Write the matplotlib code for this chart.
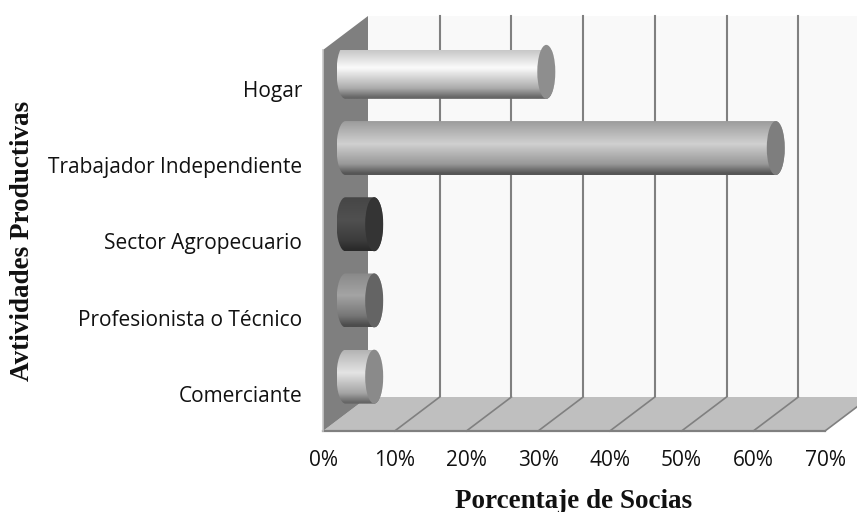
import numpy as np
import matplotlib
matplotlib.use("Agg")
import matplotlib.pyplot as plt
from matplotlib.colors import LinearSegmentedColormap
from matplotlib.patches import Ellipse, Polygon, PathPatch
from matplotlib.path import Path
from matplotlib.transforms import ScaledTranslation

categories = ["Comerciante", "Profesionista o Técnico", "Sector Agropecuario",
              "Trabajador Independiente", "Hogar"]
values = [4, 4, 4, 60, 28]
xticks = [0, 10, 20, 30, 40, 50, 60, 70]

# bottom, lower, middle, top of the tube and the colour of its end cap
shades = [
    ("#666666", "#a4a4a4", "#e4e4e4", "#b4b4b4", "#8a8a8a"),
    ("#4c4c4c", "#767676", "#a4a4a4", "#888888", "#646464"),
    ("#2a2a2a", "#3c3c3c", "#505050", "#464646", "#343434"),
    ("#565656", "#989898", "#d0d0d0", "#9c9c9c", "#7e7e7e"),
    ("#666666", "#acacac", "#fbfbfb", "#b8b8b8", "#8e8e8e"),
]

W, H = 857, 512
fig = plt.figure(figsize=(W / 100, H / 100), dpi=100)
# the axes is the front plane of the 3d box
ax = fig.add_axes([323 / W, 81 / H, 502 / W, 381 / H])
ax.set_xlim(0, 70)
ax.set_ylim(-0.5, 4.5)
ax.patch.set_visible(False)
for s in ax.spines.values():
    s.set_visible(False)

# depth of the box in data units
dx = 45 / (502 / 70)
dy = 34 / (381 / 5)
y0, y1 = -0.5, 4.5
xmax = xticks[-1]

ax.add_patch(Polygon([(dx, y0 + dy), (xmax + dx, y0 + dy), (xmax + dx, y1 + dy), (dx, y1 + dy)],
                     fc="#f9f9f9", ec="none", clip_on=False, zorder=1))
for t in xticks[1:]:
    ax.plot([t + dx, t + dx], [y0 + dy, y1 + dy], color="#808080", lw=1.5, clip_on=False, zorder=2)
ax.add_patch(Polygon([(0, y0), (xmax, y0), (xmax + dx, y0 + dy), (dx, y0 + dy)],
                     fc="#bfbfbf", ec="none", clip_on=False, zorder=3))
for t in xticks[1:]:
    ax.plot([t, t + dx], [y0, y0 + dy], color="#808080", lw=1.2, clip_on=False, zorder=4)
ax.plot([0, xmax], [y0, y0], color="#808080", lw=1.6, clip_on=False, zorder=4)
ax.add_patch(Polygon([(0, y0), (dx, y0 + dy), (dx, y1 + dy), (0, y1)],
                     fc="#7f7f7f", ec="none", clip_on=False, zorder=5))
ax.plot([0, 0], [y0, y1], color="#c8c8c8", lw=1.2, clip_on=False, zorder=5)

# tubes sit in the middle of the depth
half_h = 27 / (381 / 5)
cap_w = 9 / (502 / 70)
k = 0.5523
ramp = np.linspace(0, 1, 128)[:, None]
for i, (val, sh) in enumerate(zip(values, shades)):
    yc = i + dy / 2 - 0.01
    xa = dx / 2
    xb = xa + val
    top, bot = yc + half_h, yc - half_h
    verts = [(xb, bot), (xb, top), (xa, top),
             (xa - k * cap_w, top), (xa - cap_w, yc + k * half_h), (xa - cap_w, yc),
             (xa - cap_w, yc - k * half_h), (xa - k * cap_w, bot), (xa, bot), (xb, bot)]
    codes = [Path.MOVETO, Path.LINETO, Path.LINETO,
             Path.CURVE4, Path.CURVE4, Path.CURVE4,
             Path.CURVE4, Path.CURVE4, Path.CURVE4, Path.CLOSEPOLY]
    body = PathPatch(Path(verts, codes), fc="none", ec="none", clip_on=False, zorder=6)
    ax.add_patch(body)
    cmap = LinearSegmentedColormap.from_list(
        "tube", [(0, sh[0]), (0.03, sh[0]), (0.2, sh[1]), (0.58, sh[2]), (1, sh[3])])
    body_img = ax.imshow(ramp, cmap=cmap, aspect="auto", origin="lower",
                         extent=[xa - cap_w, xb, bot, top], zorder=7)
    body_img.set_clip_path(body)
    # far side of the end cap, same shading as the body
    end_img = ax.imshow(ramp, cmap=cmap, aspect="auto", origin="lower",
                        extent=[xb, xb + cap_w, bot, top], zorder=7)
    end_img.set_clip_path(Ellipse((xb, yc), 2 * cap_w, 2 * half_h, transform=ax.transData))
    ax.add_patch(Ellipse((xb, yc), 2 * cap_w, 2 * half_h, fc=sh[4], ec="none",
                         clip_on=False, zorder=8))

ax.set_xlim(0, 70)
ax.set_ylim(-0.5, 4.5)
ax.set_xticks(xticks)
ax.set_xticklabels(["%d%%" % t for t in xticks], fontfamily="Open Sans", fontsize=15, color="#111111")
ax.set_yticks(range(len(categories)))
ax.set_yticklabels(categories, fontfamily="Open Sans", fontsize=15, color="#111111")
ax.tick_params(axis="both", length=0)
ax.tick_params(axis="x", pad=14)
ax.tick_params(axis="y", pad=15)
for lab in ax.get_yticklabels():
    lab.set_transform(lab.get_transform() + ScaledTranslation(0, -1 / 100, fig.dpi_scale_trans))

fig.text(574 / W, 1 - 501 / H, "Porcentaje de Socias", family="Liberation Serif", weight="bold",
         fontsize=19.5, ha="center", va="center", color="#111111")
fig.text(23 / W, 1 - 241 / H, "Avtividades Productivas", family="Liberation Serif", weight="bold",
         fontsize=19.5, ha="center", va="center", rotation=90, color="#111111")

fig.savefig("out.png", dpi=100)
